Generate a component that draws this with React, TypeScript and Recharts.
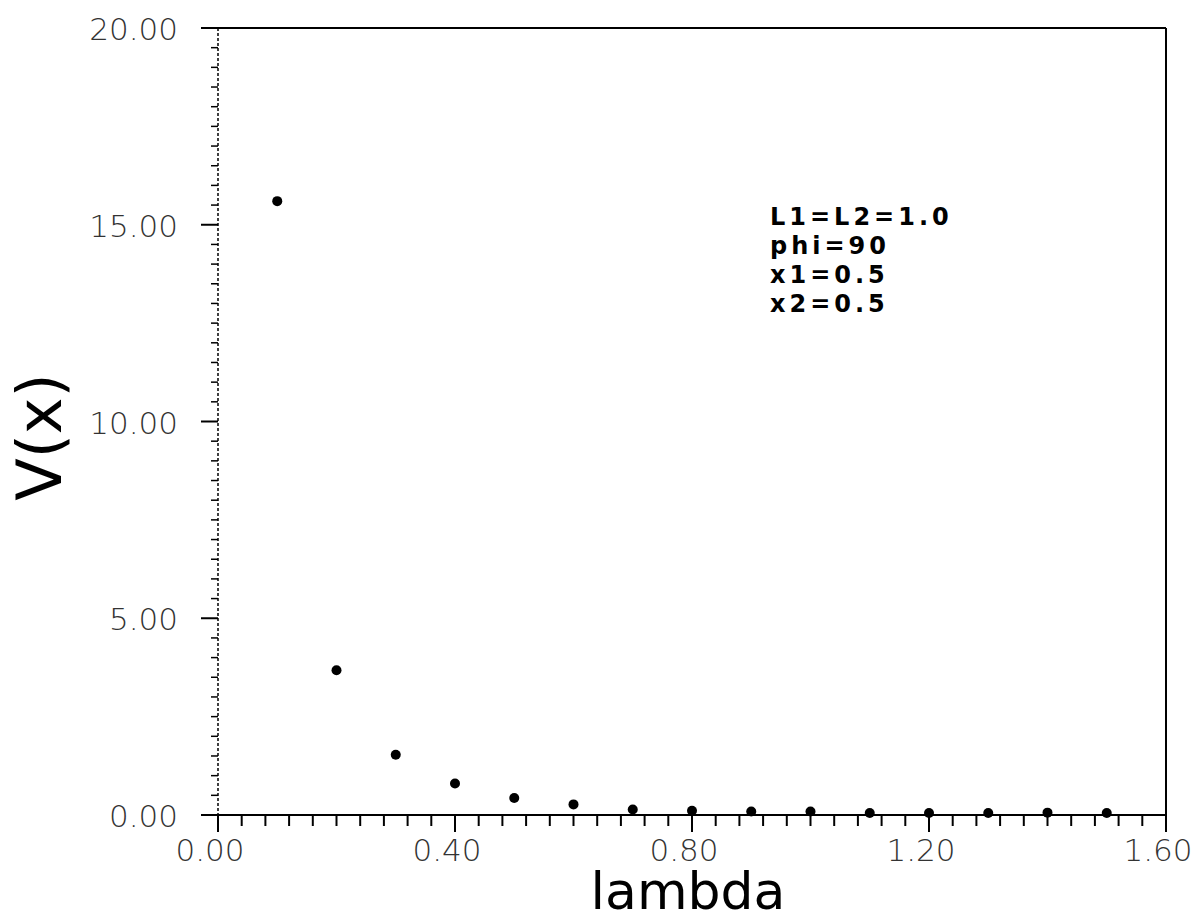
import React from 'react';
import { ScatterChart, Scatter, XAxis, YAxis, ReferenceLine } from 'recharts';

const lambdas = [0.1, 0.2, 0.3, 0.4, 0.5, 0.6, 0.7, 0.8, 0.9, 1.0, 1.1, 1.2, 1.3, 1.4, 1.5];
const vValues = [15.6, 3.68, 1.53, 0.8, 0.43, 0.27, 0.14, 0.11, 0.09, 0.09, 0.05, 0.05, 0.05, 0.06, 0.05];

const xMajor = [0, 0.4, 0.8, 1.2, 1.6];
const xMinorStep = 0.04;
const yMajor = [0, 5, 10, 15, 20];
const yMinorStep = 0.5;
const notes = ['L1=L2=1.0', 'phi=90', 'x1=0.5', 'x2=0.5'];

const data = lambdas.map((l, i) => ({ l, v: vValues[i] }));

const buildTicks = (major: number[], step: number) => {
  const last = major[major.length - 1];
  const out: number[] = [];
  for (let i = 0; i * step <= last + 1e-9; i++) out.push(+(i * step).toFixed(4));
  return out;
};
const isMajor = (major: number[], v: number) => major.some((m) => Math.abs(m - v) < 1e-6);

const labelFont = { fontFamily: '"DejaVu Sans", sans-serif', fontWeight: 200, fontSize: 31, fill: '#333' };

const XTick = (props: any) => {
  const { x, y, payload } = props;
  const major = isMajor(xMajor, payload.value);
  return (
    <g>
      <line x1={x} y1={y} x2={x} y2={y + (major ? 17 : 11)} stroke="#000" strokeWidth={2} />
      {major && (
        <text x={x - 8} y={y + 46} textAnchor="middle" {...labelFont}>
          {payload.value.toFixed(2)}
        </text>
      )}
    </g>
  );
};

const YTick = (props: any) => {
  const { x, y, payload } = props;
  const major = isMajor(yMajor, payload.value);
  return (
    <g>
      <line x1={x} y1={y} x2={x - (major ? 17 : 7)} y2={y} stroke="#000" strokeWidth={major ? 2 : 1.5} />
      {major && (
        <text x={x - 40} y={y + 12} textAnchor="end" {...labelFont}>
          {payload.value.toFixed(2)}
        </text>
      )}
    </g>
  );
};

const Dot = (props: any) => <circle cx={props.cx} cy={props.cy} r={5} fill="#000" />;

export default function App() {
  return (
    <div style={{ position: 'absolute', left: 0, top: 0, width: 1199, height: 918, background: '#fff' }}>
      <ScatterChart width={1199} height={918} margin={{ top: 28, right: 33, bottom: 43, left: 138 }}>
        <XAxis
          type="number"
          dataKey="l"
          domain={[0, 1.6]}
          ticks={buildTicks(xMajor, xMinorStep)}
          interval={0}
          tick={<XTick />}
          tickLine={false}
          tickSize={0}
          tickMargin={0}
          height={60}
          axisLine={{ stroke: '#000', strokeWidth: 2 }}
        />
        <YAxis
          type="number"
          dataKey="v"
          domain={[0, 20]}
          ticks={buildTicks(yMajor, yMinorStep)}
          interval={0}
          tick={<YTick />}
          tickLine={false}
          tickSize={0}
          tickMargin={0}
          width={80}
          axisLine={{ stroke: '#000', strokeWidth: 1.5, strokeDasharray: '3 2' }}
        />
        <ReferenceLine y={20} stroke="#000" strokeWidth={2} />
        <ReferenceLine x={1.6} stroke="#000" strokeWidth={2} />
        <Scatter data={data} shape={<Dot />} isAnimationActive={false} />
      </ScatterChart>
      <div
        style={{
          position: 'absolute',
          left: 770,
          top: 203,
          fontFamily: '"DejaVu Sans", sans-serif',
          fontWeight: 'bold',
          fontSize: 24,
          letterSpacing: 4,
          lineHeight: '29px',
          color: '#000',
        }}
      >
        {notes.map((n) => (
          <div key={n}>{n}</div>
        ))}
      </div>
      <div
        style={{
          position: 'absolute',
          left: 40,
          top: 437,
          transform: 'translate(-50%, -50%) rotate(-90deg)',
          fontFamily: '"DejaVu Sans", sans-serif',
          fontSize: 62,
          lineHeight: 1,
          whiteSpace: 'nowrap',
          color: '#000',
        }}
      >
        V(x)
      </div>
      <div
        style={{
          position: 'absolute',
          left: 688,
          top: 891,
          transform: 'translate(-50%, -50%)',
          fontFamily: '"DejaVu Sans", sans-serif',
          fontSize: 52,
          lineHeight: '44px',
          whiteSpace: 'nowrap',
          color: '#000',
        }}
      >
        lambda
      </div>
    </div>
  );
}
